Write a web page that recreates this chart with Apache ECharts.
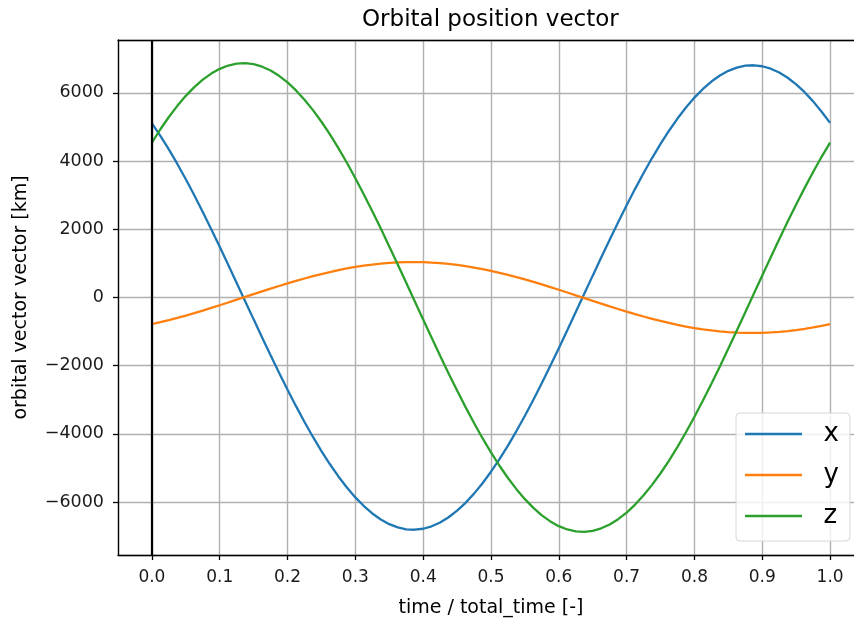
<!DOCTYPE html>
<html>
<head>
<meta charset="utf-8">
<script src="https://cdn.jsdelivr.net/npm/echarts@6/dist/echarts.min.js"></script>
<style>
  html, body { margin: 0; padding: 0; background: #fff; overflow: hidden; }
  /* the figure is cut at the right edge: draw wider and let the window crop it */
  #chart { width: 880px; height: 619px; }
</style>
</head>
<body>
<div id="chart"></div>
<script>
// time / total_time, sampled every 0.0125
const timeSteps = [
  0.0000, 0.0125, 0.0250, 0.0375, 0.0500, 0.0625, 0.0750, 0.0875, 0.1000, 0.1125,
  0.1250, 0.1375, 0.1500, 0.1625, 0.1750, 0.1875, 0.2000, 0.2125, 0.2250, 0.2375,
  0.2500, 0.2625, 0.2750, 0.2875, 0.3000, 0.3125, 0.3250, 0.3375, 0.3500, 0.3625,
  0.3750, 0.3875, 0.4000, 0.4125, 0.4250, 0.4375, 0.4500, 0.4625, 0.4750, 0.4875,
  0.5000, 0.5125, 0.5250, 0.5375, 0.5500, 0.5625, 0.5750, 0.5875, 0.6000, 0.6125,
  0.6250, 0.6375, 0.6500, 0.6625, 0.6750, 0.6875, 0.7000, 0.7125, 0.7250, 0.7375,
  0.7500, 0.7625, 0.7750, 0.7875, 0.8000, 0.8125, 0.8250, 0.8375, 0.8500, 0.8625,
  0.8750, 0.8875, 0.9000, 0.9125, 0.9250, 0.9375, 0.9500, 0.9625, 0.9750, 0.9875,
  1.0000
];

// position components [km]
const posX = [
  5108, 4739, 4341, 3916, 3466, 2996, 2507, 2002, 1485, 960,
  428, -107, -641, -1171, -1694, -2206, -2704, -3186, -3649, -4089,
  -4503, -4890, -5247, -5571, -5861, -6115, -6332, -6509, -6646, -6742,
  -6796, -6809, -6780, -6709, -6596, -6443, -6250, -6019, -5750, -5446,
  -5108, -4739, -4341, -3916, -3466, -2996, -2507, -2002, -1485, -960,
  -428, 107, 641, 1171, 1694, 2206, 2704, 3186, 3649, 4089,
  4503, 4890, 5247, 5571, 5861, 6115, 6332, 6509, 6646, 6742,
  6796, 6809, 6780, 6709, 6596, 6443, 6250, 6019, 5750, 5446,
  5120
];
const posY = [
  -780, -724, -663, -598, -529, -457, -383, -306, -227, -147,
  -65, 16, 98, 179, 259, 337, 413, 487, 557, 624,
  688, 747, 801, 851, 895, 934, 967, 994, 1015, 1030,
  1038, 1040, 1035, 1025, 1007, 984, 955, 919, 878, 832,
  780, 724, 663, 598, 529, 457, 383, 306, 227, 147,
  65, -16, -98, -179, -259, -337, -413, -487, -557, -624,
  -688, -747, -801, -851, -895, -934, -967, -994, -1015, -1030,
  -1038, -1040, -1035, -1025, -1007, -984, -955, -919, -878, -832,
  -780
];
const posZ = [
  4543, 4933, 5293, 5620, 5913, 6169, 6388, 6566, 6704, 6801,
  6856, 6869, 6840, 6768, 6654, 6500, 6305, 6072, 5800, 5494,
  5153, 4781, 4379, 3950, 3497, 3022, 2529, 2020, 1498, 968,
  431, -108, -646, -1181, -1709, -2225, -2728, -3214, -3681, -4125,
  -4543, -4933, -5293, -5620, -5913, -6169, -6388, -6566, -6704, -6801,
  -6856, -6869, -6840, -6768, -6654, -6500, -6305, -6072, -5800, -5494,
  -5153, -4781, -4379, -3950, -3497, -3022, -2529, -2020, -1498, -968,
  -431, 108, 646, 1181, 1709, 2225, 2728, 3214, 3681, 4125,
  4543
];

const seriesNames = ['x', 'y', 'z'];
const seriesColors = ['#1f77b4', '#ff7f0e', '#2ca02c'];

const font = 'DejaVu Sans';
const spine = { color: '#000', width: 1.3 };
const gridLine = { color: '#b0b0b0', width: 1.4 };

function pairs(values) {
  return timeSteps.map((t, i) => [t, values[i]]);
}

const chart = echarts.init(document.getElementById('chart'), null, { renderer: 'canvas' });

const option = {
  animation: false,
  backgroundColor: '#fff',
  color: seriesColors,
  title: {
    text: 'Orbital position vector',
    left: 357,
    top: 4,
    textStyle: { fontFamily: font, fontSize: 23, fontWeight: 'normal', color: '#000' }
  },
  grid: {
    left: 118,
    top: 40,
    width: 746,
    height: 515,
    outerBoundsMode: 'none',
    containLabel: false
  },
  legend: {
    orient: 'vertical',
    left: 736,
    top: 413,
    padding: [6, 11, 10, 9],
    itemGap: 11,
    itemWidth: 57,
    itemHeight: 2.5,
    icon: 'rect',
    backgroundColor: 'rgba(255,255,255,0.8)',
    borderColor: '#d6d6d6',
    borderWidth: 1,
    borderRadius: 4,
    formatter: name => '  ' + name,
    textStyle: { fontFamily: font, fontSize: 26, lineHeight: 30, color: '#000' },
    data: seriesNames
  },
  xAxis: [
    {
      type: 'value',
      min: -0.05,
      max: 1.05,
      splitNumber: 10,
      name: 'time / total_time [-]',
      nameLocation: 'middle',
      nameGap: 44,
      nameTextStyle: { fontFamily: font, fontSize: 19, color: '#000' },
      axisLine: { show: true, onZero: false, lineStyle: spine },
      axisTick: { show: true, length: 5, lineStyle: spine },
      axisLabel: {
        fontFamily: font, fontSize: 17, color: '#1a1a1a', margin: 14,
        showMinLabel: false, showMaxLabel: false,
        formatter: v => v.toFixed(1)
      },
      splitLine: { show: true, lineStyle: gridLine }
    },
    {
      // top spine only
      type: 'value',
      position: 'top',
      min: -0.05,
      max: 1.05,
      axisLine: { show: true, onZero: false, lineStyle: spine },
      axisTick: { show: false },
      axisLabel: { show: false },
      splitLine: { show: false }
    }
  ],
  yAxis: {
    type: 'value',
    min: -7550,
    max: 7550,
    splitNumber: 8,
    name: 'orbital vector vector [km]',
    nameLocation: 'middle',
    nameGap: 87,
    nameTextStyle: { fontFamily: font, fontSize: 19, color: '#000' },
    axisLine: { show: true, onZero: false, lineStyle: spine },
    axisTick: { show: true, length: 5, lineStyle: spine },
    axisLabel: {
      fontFamily: font, fontSize: 17.5, color: '#1a1a1a', margin: 14,
      showMinLabel: false, showMaxLabel: false,
      formatter: v => String(v).replace('-', '\u2212')
    },
    splitLine: { show: true, lineStyle: gridLine }
  },
  series: [posX, posY, posZ].map((vals, i) => ({
    name: seriesNames[i],
    type: 'line',
    data: pairs(vals),
    symbol: 'none',
    lineStyle: { width: 2.3, color: seriesColors[i] },
    itemStyle: { color: seriesColors[i] },
    markLine: i === 0 ? {
      silent: true,
      symbol: 'none',
      label: { show: false },
      lineStyle: { color: '#000', width: 2.2, type: 'solid' },
      data: [{ xAxis: 0 }]
    } : undefined
  }))
};

chart.setOption(option);
</script>
</body>
</html>
